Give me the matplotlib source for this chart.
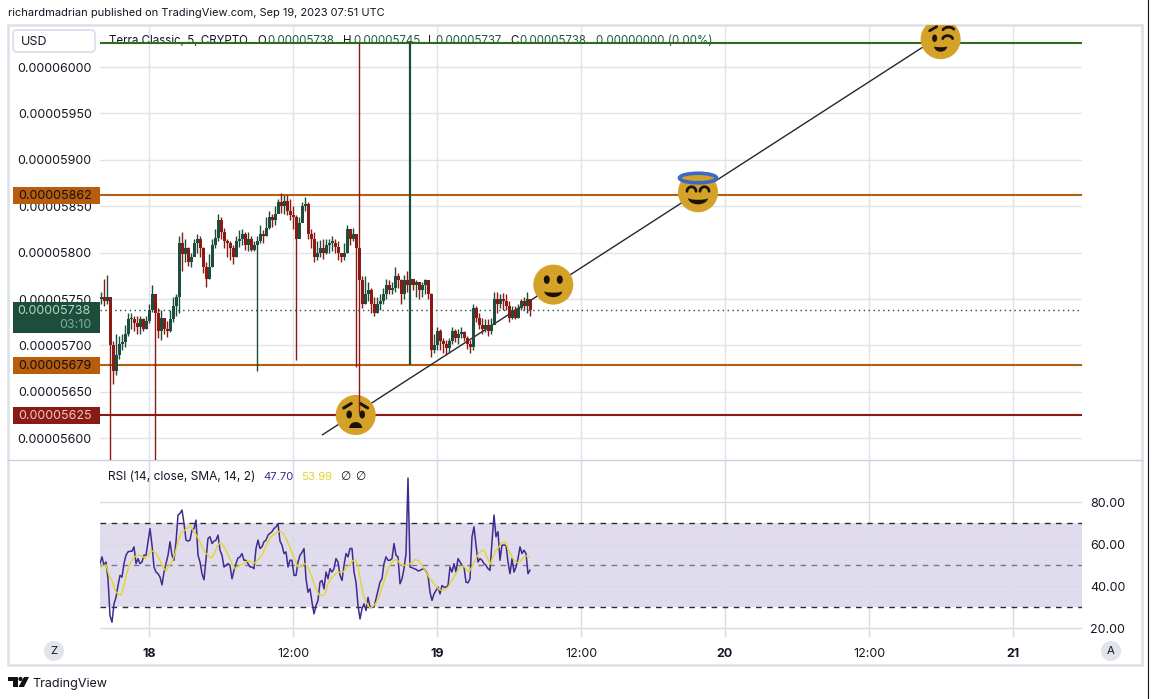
import numpy as np
import matplotlib
matplotlib.use("Agg")
import matplotlib.pyplot as plt
from matplotlib.patches import Circle, Ellipse, FancyBboxPatch, Polygon, Rectangle
from matplotlib.lines import Line2D
from matplotlib.transforms import Affine2D, ScaledTranslation

plt.rcParams['font.family'] = ['Inter', 'DejaVu Sans']

# ---------- data (prices in 1e-8 units, time in hours since Sep 18 00:00) ----------
bar_start = -3.96
bar_step = 0.25
first_open = 5750
closes = [5752,5748,5752,5700,5672,5690,5702,5704,5712,5728,5728,5724,5720,5728,5718,5726,5738,5755,5735,5716,
          5730,5718,5716,5728,5742,5752,5810,5798,5805,5790,5795,5810,5815,5805,5785,5772,5785,5808,5816,5835,
          5822,5812,5810,5805,5795,5812,5815,5820,5808,5815,5803,5808,5812,5820,5818,5826,5838,5835,5842,5855,
          5850,5856,5845,5840,5838,5815,5832,5850,5852,5820,5815,5795,5800,5805,5800,5808,5810,5810,5806,5800,
          5795,5800,5825,5815,5820,5805,5770,5745,5755,5760,5745,5735,5745,5748,5755,5765,5760,5762,5775,5770,
          5755,5770,5765,5772,5765,5768,5760,5765,5770,5755,5695,5700,5715,5705,5702,5697,5705,5715,5708,5712,
          5714,5708,5702,5698,5740,5730,5722,5718,5722,5715,5722,5750,5745,5750,5748,5742,5730,5738,5730,5740,
          5748,5742,5750,5738]
highs = [5758,5772,5776,5745,5705,5712,5710,5712,5722,5735,5735,5732,5732,5732,5730,5732,5745,5765,5750,5740,
         5738,5728,5726,5738,5752,5755,5818,5822,5815,5806,5800,5815,5820,5818,5806,5790,5798,5815,5825,5842,
         5838,5826,5815,5812,5808,5818,5824,5825,5822,5822,5818,5812,5818,5830,5824,5838,5845,5842,5850,5858,
         5864,5862,5862,5858,5850,5840,5838,5855,5860,5855,5825,5822,5812,5814,5815,5815,5815,5818,5815,5812,
         5800,5810,5830,5825,5826,5820,6026,5775,5775,5768,5762,5752,5752,5755,5762,5772,5770,5768,5785,5778,
         5772,5776,5780,6026,5772,5770,5768,5768,5772,5768,5756,5712,5720,5718,5708,5706,5708,5720,5718,5718,
         5720,5716,5710,5706,5745,5742,5735,5730,5728,5728,5730,5758,5758,5755,5756,5755,5748,5742,5742,5745,
         5750,5752,5758,5745]
lows = [5745,5743,5745,5576,5658,5668,5685,5695,5698,5710,5718,5716,5712,5712,5716,5718,5724,5736,5576,5708,
        5706,5712,5709,5714,5725,5732,5735,5780,5790,5786,5785,5798,5800,5795,5778,5763,5772,5785,5805,5812,
        5815,5805,5795,5792,5788,5795,5806,5808,5803,5802,5802,5802,5672,5810,5810,5818,5825,5828,5830,5845,
        5843,5842,5840,5835,5825,5684,5825,5835,5845,5815,5805,5790,5792,5795,5793,5798,5800,5802,5800,5792,
        5790,5792,5800,5808,5812,5677,5627,5740,5745,5748,5735,5732,5735,5738,5745,5750,5755,5755,5758,5762,
        5745,5750,5758,5679,5760,5752,5750,5752,5755,5750,5688,5692,5695,5695,5692,5690,5692,5702,5704,5702,
        5708,5705,5696,5692,5695,5725,5718,5712,5714,5710,5712,5725,5735,5740,5738,5738,5725,5728,5728,5730,
        5738,5738,5735,5732]
thick_bars = [103]

rsi_start = -4.083
rsi_step = 1 / 6
rsi_values = [50.8,54,50,51.6,43.6,26,22.9,31.7,34.8,40.4,45.2,44.4,50.8,54.8,56.4,56.7,56.7,58.8,50.8,53.2,
              50.8,51.6,54.8,54.8,61.2,67.5,59.6,49.2,46.8,46,44.4,40.7,46.8,50.8,54.8,61.2,54.8,52.4,61.2,73.9,
              74.7,76.3,69.9,62,61.5,62,66.7,67.5,71.5,54.8,51.6,46,43.1,53.2,62.8,63.6,60.4,61.5,62,64.4,
              57.2,54.8,49.2,50,50.8,50,43.6,47.6,50.8,53.5,54,55.6,52.4,52.4,50.8,49.2,49.2,48.4,58,62,
              58,58.8,61.2,62,64.4,65.2,66,67.5,68.3,69.9,61.5,59.6,55.6,56.4,49.2,52.4,52.4,45.2,45.2,51.6,
              54.8,56.1,58,43.6,37.2,38.8,32.5,26.9,30.9,33.3,
              42,42.8,38.8,46.8,43.6,48.4,46.8,48.4,53.2,51.6,45.2,42.8,50,55.6,54,58,58,46.8,42,30.9,
              24.5,29.3,31.7,28.5,34.8,30.1,30.1,30.1,34,38,42,43.6,50.8,54,52.4,52.4,53.2,60.4,54.8,54,
              41.2,43.6,48.4,55.6,91.5,49.2,48.9,48.4,48.1,47.3,47.6,48.1,48.4,47.1,45.2,37.2,33.3,36.4,38,39.6,
              36.4,40.4,39.6,39.6,40.4,49.2,46.8,50.8,46.8,53.2,51.6,50,49.2,42,41.7,43.6,63.6,68.3,59.6,51.6,
              53.2,52.4,50.8,50,48.4,47.6,61.2,73.9,63.6,66,52.4,59.6,59.6,59.6,51.6,46,53.2,46.8,49.2,53.2,
              58.8,55.6,57.2,55.6,46,47.7]
ma_step = 0.25
ma_values = [49.2,49.7,50.3,45.2,42.8,38,36.4,35.6,40.4,46.8,50.8,53.2,54.5,54.8,54.5,53.2,54.8,56.7,56.7,55.1,
             52.4,49.2,47.1,50,51.6,55.6,61.2,65.2,66.4,67.5,68.8,66.7,64.7,62,58.8,56.1,54.8,53.5,55.1,58.8,
             60.8,59.6,57.2,54,50.8,48.4,49.2,50.3,50.8,51.9,51.9,50.8,51.6,53.2,54.8,58,61.2,63.6,64.7,65.6,
             66.3,65.2,62.8,59.6,56.1,52.4,49.2,49.2,50.8,50,46.8,42.8,38.8,
             36,35.6,36.4,41.2,43.6,45.2,46.5,46.8,46.8,48.4,50,51.9,52.7,50,41.2,34.8,31.7,29.6,30.5,32.1,
             34.8,39.6,43.6,48.4,50.8,52.4,52.7,50.8,50,50,50.5,51.3,52.7,52.4,50.8,48.4,46,43.6,42,40.1,
             38.5,38,38.5,39.6,42,44.4,47.1,49.2,49.7,48.4,46.8,49.2,52.4,55.1,56.7,57.2,54,50.5,54,57.2,
             58.8,60.8,61.2,58,54.8,52.4,51.3,51.6,53.5,54.5,53.99]

price_ticks = [5600,5650,5700,5750,5800,5850,5900,5950,6000]
rsi_ticks = [20,40,60,80]
time_ticks = [0,12,24,36,48,60,72]
time_labels = ['18','12:00','19','12:00','20','12:00','21']
bold_time = ['18','19','20','21']

level_values = [5862,5679,5625,6026]
level_colors = ['#B85C0E','#B85C0E','#8B1A14','#2F6A1E']
last_price = 5738
trend_hours = [14.42,64.5]
trend_prices = [5603.4,6021.6]

RED = '#8B1A14'
GREEN = '#1E4D3B'
GRID = '#E1E3EA'
INK = '#131722'
FACE = '#D4A129'
DARK = '#1A1408'
W, H = 1153, 699

fig = plt.figure(figsize=(W/100, H/100), dpi=100, facecolor='white')

def axpos(x0, y0, x1, y1):
    return [x0/W, 1-y1/H, (x1-x0)/W, (y1-y0)/H]

ax = fig.add_axes(axpos(100, 25, 1082, 460), zorder=2)
rx = fig.add_axes(axpos(100, 460, 1082, 637), zorder=2)
ov = fig.add_axes([0, 0, 1, 1], zorder=5)
ov.set_xlim(0, W); ov.set_ylim(H, 0); ov.axis('off'); ov.patch.set_alpha(0)
bg = fig.add_axes([0, 0, 1, 1], zorder=0)
bg.set_xlim(0, W); bg.set_ylim(H, 0); bg.axis('off')

xlim = (-4.0833, 77.75)
for a in (ax, rx):
    for s in a.spines.values():
        s.set_visible(False)
    a.patch.set_alpha(0)

# ---------- price pane ----------
ax.set_axisbelow(True)
ax.set_xlim(xlim); ax.set_ylim(5576.5, 6045.3)
ax.set_yticks(price_ticks)
ax.set_yticklabels(['0.%08d' % p for p in price_ticks], fontsize=9.0, color=INK)
ax.set_xticks(time_ticks); ax.set_xticklabels([])
ax.tick_params(length=0, pad=6)
ax.grid(True, color=GRID, lw=1.0)

for v, c in zip(level_values, level_colors):
    ax.axhline(v, color=c, lw=1.5, zorder=3)
ax.axhline(last_price, color=GREEN, lw=1.0, ls=(0, (1, 2.5)), zorder=3)
ax.plot(trend_hours, trend_prices, color='#26262C', lw=1.0, zorder=3.2, solid_capstyle='butt')

def emoji(h, p):
    t = Affine2D().scale(1, -1) + ScaledTranslation(h, p, ax.transData)
    ax.add_patch(Circle((0, 0), 20, fc=FACE, ec='none', transform=t, zorder=3.5))
    return t

def stroke(t, xs, ys, lw=2.0):
    ax.add_line(Line2D(xs, ys, color=DARK, lw=lw, transform=t, zorder=3.6, solid_capstyle='round'))

def arc(t, cx, cy, rx_, ry_, a0, a1, lw=2.0):
    th = np.radians(np.linspace(a0, a1, 24))
    stroke(t, cx+rx_*np.cos(th), cy+ry_*np.sin(th), lw)

def eye(t, x, y, w=5.6, h=8):
    ax.add_patch(Ellipse((x, y), w, h, fc=DARK, ec='none', transform=t, zorder=3.6))

def mouth(t, cx, cy, w, lower, upper):
    th = np.radians(np.linspace(0, 180, 24))
    low = np.c_[cx + w*np.cos(th), cy + lower*np.sin(th)]
    up = np.c_[cx + w*np.cos(th[::-1]), cy + upper*np.sin(th[::-1])]
    ax.add_patch(Polygon(np.r_[low, up], closed=True, fc=DARK, ec='none', transform=t, zorder=3.6))

# worried face
t = emoji(17.225, 5625)
eye(t, -6.5, -0.5); eye(t, 6.5, -0.5)
stroke(t, [-12, -4.5], [-7, -11.5], 2.2); stroke(t, [12, 4.5], [-7, -11.5], 2.2)
mouth(t, 0, 13, 6.5, -6, 0)
# smile
t = emoji(33.69, 5765.5)
eye(t, -6.5, -5, 6, 8.5); eye(t, 6.5, -5, 6, 8.5)
mouth(t, 0, 6.5, 9, 6, 1.5)
# halo face
t = emoji(45.75, 5865)
arc(t, -6.5, -1, 4.5, 4.5, 180, 360); arc(t, 6.5, -1, 4.5, 4.5, 180, 360)
mouth(t, 0, 5.5, 10, 6.5, 2)
ax.add_patch(Ellipse((0, -14.3), 37, 9.5, fc=FACE, ec='#3C6AC2', lw=2.6, transform=t, zorder=3.7))
# wink face
t = emoji(65.97, 6030)
eye(t, -6, -1, 5, 7.5)
stroke(t, [-11, -4], [-8.5, -12.5], 2.0)
arc(t, 7, 0, 5, 3.5, 190, 350, 2.0); arc(t, 8, -8, 6, 4, 200, 330, 2.0)
mouth(t, 0, 7, 6.5, 5.5, 1)

# candles
closes_a = np.array(closes, float)
opens_a = np.r_[first_open, closes_a[:-1]]
highs_a = np.array(highs, float); lows_a = np.array(lows, float)
bar_x = bar_start + bar_step*np.arange(len(closes_a))
cols = [GREEN if c >= o else RED for o, c in zip(opens_a, closes_a)]
lws = [1.6 if i in thick_bars else 1.0 for i in range(len(closes_a))]
ax.vlines(bar_x, lows_a, highs_a, colors=cols, linewidths=lws, zorder=4)
ax.bar(bar_x, np.maximum(np.abs(closes_a-opens_a), 2), bottom=np.minimum(opens_a, closes_a),
       width=0.22, color=cols, linewidth=0, zorder=4)

# ---------- RSI pane ----------
rx.set_xlim(xlim); rx.set_ylim(15.9, 100.1)
rx.set_yticks(rsi_ticks)
rx.set_yticklabels(['%.2f' % v for v in rsi_ticks], fontsize=9.0, color=INK)
rx.yaxis.tick_right()
rx.set_xticks(time_ticks)
rx.set_xticklabels(time_labels, fontsize=9.0, color=INK)
for lab, s in zip(rx.get_xticklabels(), time_labels):
    if s in bold_time:
        lab.set_fontweight('bold')
rx.tick_params(length=0, pad=6)
rx.tick_params(axis='x', pad=8)
rx.axhspan(30, 70, color='#E0DCEE', lw=0, zorder=0.3)
rx.set_axisbelow(True)
rx.grid(True, color='#D9DAE4', lw=1.0, zorder=0.6)
rx.axhline(70, color='#2A2A35', lw=1.0, ls=(0, (4, 4)), zorder=1.5)
rx.axhline(30, color='#2A2A35', lw=1.0, ls=(0, (4, 4)), zorder=1.5)
rx.axhline(50, color='#77778A', lw=1.0, ls=(0, (4, 4)), zorder=1.5)
rx.plot(rsi_start + rsi_step*np.arange(len(rsi_values)), rsi_values, color='#402C90', lw=1.1, zorder=3)
rx.plot(rsi_start + ma_step*np.arange(len(ma_values)), ma_values, color='#E4D52B', lw=1.0, zorder=3.5)

# ---------- texts ----------
def pt(x, y, s, color=INK, size=8.6, target=ov, **kw):
    target.text(x, y, s, color=color, fontsize=size, va='center', ha=kw.pop('ha', 'left'),
                transform=ov.transData, zorder=kw.pop('zorder', 6), **kw)

legend_green = '#1F5C45'
for x, s, c in [(109, 'Terra Classic, 5, CRYPTO', INK), (257, 'O', INK), (267, '0.00005738', legend_green),
                (343, 'H', INK), (353, '0.00005745', legend_green), (428, 'L', INK), (435, '0.00005737', legend_green),
                (510, 'C', INK), (519, '0.00005738', legend_green), (596, '0.00000000 (0.00%)', legend_green)]:
    pt(x, 41.5, s, c, 8.3, target=ax, zorder=1.5, clip_on=False)

# ---------- frame, header, widgets ----------
frame = '#DDE1E8'
bg.add_patch(Rectangle((8, 25), 1134, 640, fc='white', ec=frame, lw=1.9))
bg.plot([8, 1142], [460, 460], color='#C9CEE0', lw=1.0)
bg.plot([1148.3, 1148.3], [0, H], color='#111111', lw=0.8)
pt(8, 13.5, 'richardmadrian published on TradingView.com, Sep 19, 2023 07:51 UTC', INK, 7.95, target=bg)

ov.add_patch(FancyBboxPatch((13, 30), 82, 22, boxstyle='round,pad=0,rounding_size=4', fc='white', ec='#D6DAE8', lw=1.1))
pt(21, 42, 'USD', INK, 9.0)
pt(108, 477, 'RSI (14, close, SMA, 14, 2)', INK, 8.6)
pt(263, 477, '47.70', '#402C90', 8.2)
pt(301, 477, '53.99', '#E4D52B', 8.2)
pt(340, 477, '\u2205', INK, 8.5, fontfamily='DejaVu Sans')
pt(355, 477, '\u2205', INK, 8.5, fontfamily='DejaVu Sans')

for y, h, s, fc, tc, sz in [(187, 17, '0.00005862', '#B85C0E', '#111111', 9.0),
                            (357, 17, '0.00005679', '#B85C0E', '#111111', 9.0),
                            (407, 17, '0.00005625', '#8B1A14', '#E9C9C6', 9.0)]:
    ov.add_patch(Rectangle((13, y), 87, h, fc=fc, ec='none'))
    pt(18, y+h/2+0.5, s, tc, sz)
ov.add_patch(Rectangle((13, 302), 87, 31, fc=GREEN, ec='none'))
pt(91, 311, '0.00005738', '#A9D9C8', 9.0, ha='right')
pt(91, 325, '03:10', '#6FB39C', 9.0, ha='right')

for cx, s in [(54, 'Z'), (1111, 'A')]:
    ov.add_patch(Circle((cx, 651), 10, fc='#E2E4EC', ec='none'))
    pt(cx, 651, s, INK, 8.2, ha='center')

# TradingView logo
ov.add_patch(Polygon([(8, 677), (17.5, 677), (17.5, 687), (13, 687), (13, 681), (8, 681)], fc='#111111', ec='none'))
ov.add_patch(Circle((20.5, 679), 2.1, fc='#111111', ec='none'))
ov.add_patch(Polygon([(24, 677), (29, 677), (24, 687), (18.5, 687)], fc='#111111', ec='none'))
pt(32, 684, 'TradingView', INK, 9.0)

fig.savefig('out.png', dpi=100, facecolor='white')
print(len(closes), len(highs), len(lows), len(rsi_values), len(ma_values))
